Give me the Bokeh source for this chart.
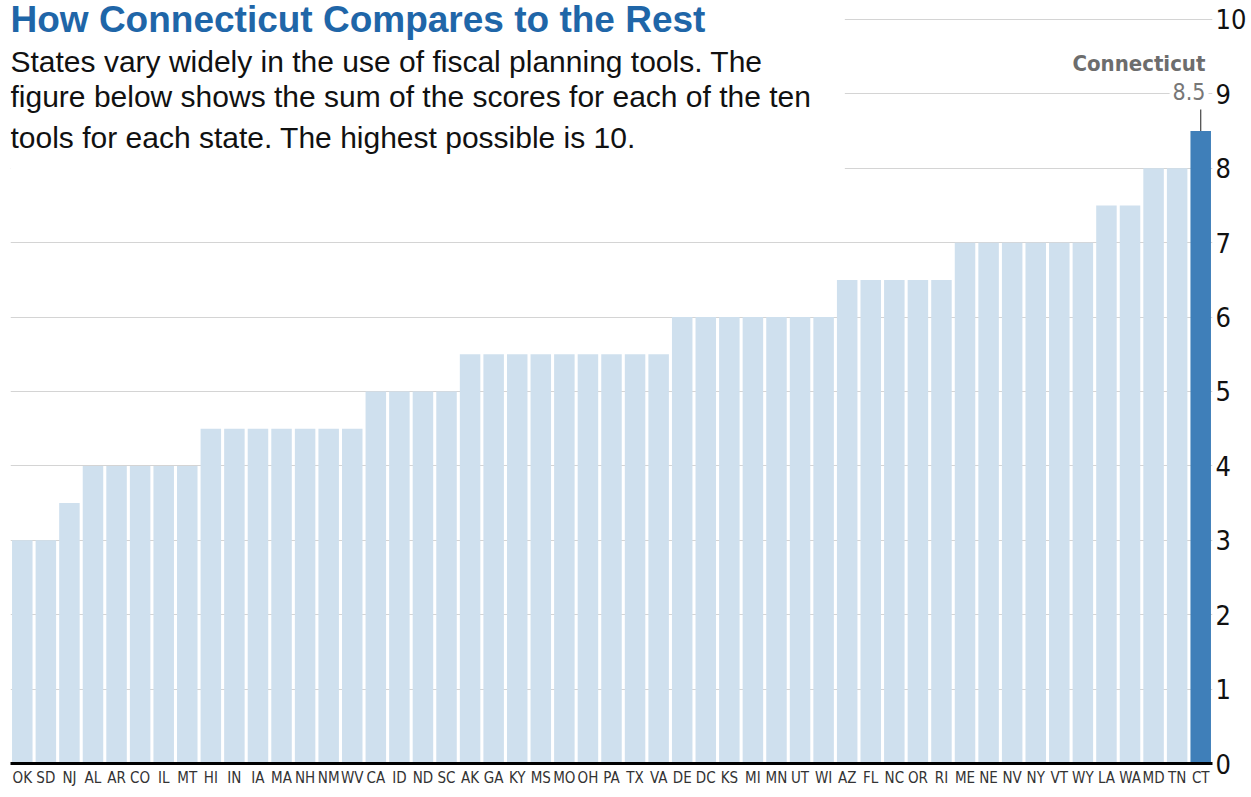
from bokeh.plotting import figure
from bokeh.models import ColumnDataSource, FactorRange, Range1d, FixedTicker, Label, BoxAnnotation
from bokeh.embed import file_html
from bokeh.resources import INLINE

states = ["OK", "SD", "NJ", "AL", "AR", "CO", "IL", "MT", "HI", "IN", "IA", "MA", "NH", "NM", "WV",
          "CA", "ID", "ND", "SC", "AK", "GA", "KY", "MS", "MO", "OH", "PA", "TX", "VA",
          "DE", "DC", "KS", "MI", "MN", "UT", "WI", "AZ", "FL", "NC", "OR", "RI",
          "ME", "NE", "NV", "NY", "VT", "WY", "LA", "WA", "MD", "TN", "CT"]
scores = [3, 3, 3.5, 4, 4, 4, 4, 4, 4.5, 4.5, 4.5, 4.5, 4.5, 4.5, 4.5,
          5, 5, 5, 5, 5.5, 5.5, 5.5, 5.5, 5.5, 5.5, 5.5, 5.5, 5.5,
          6, 6, 6, 6, 6, 6, 6, 6.5, 6.5, 6.5, 6.5, 6.5,
          7, 7, 7, 7, 7, 7, 7.5, 7.5, 8, 8, 8.5]
highlight = "CT"
y_ticks = [0, 1, 2, 3, 4, 5, 6, 7, 8, 9, 10]

LIGHT = "#cfe0ee"
DARK = "#3f7fb9"
COND = "DejaVu Sans Condensed"
colors = [DARK if s == highlight else LIGHT for s in states]
src = ColumnDataSource(dict(state=states, score=scores, color=colors))

p = figure(width=1251, height=797, x_range=FactorRange(*states), y_range=Range1d(0, 10.2016),
           output_backend="svg", toolbar_location=None, y_axis_location="right",
           min_border_left=10, min_border_right=39, min_border_top=4, min_border_bottom=34)
p.outline_line_color = None
p.background_fill_color = "white"
p.border_fill_color = "white"

p.vbar(x="state", top="score", width=0.87, color="color", source=src, line_color=None)

p.ygrid.grid_line_color = "#d4d4d4"
p.ygrid.grid_line_width = 1
p.xgrid.grid_line_color = None
p.x_range.range_padding = 0

ya = p.yaxis[0]
ya.ticker = FixedTicker(ticks=y_ticks)
ya.axis_line_color = None
ya.major_tick_line_color = None
ya.minor_tick_line_color = None
ya.major_tick_out = 0
ya.major_tick_in = 0
ya.major_label_standoff = 3
ya.major_label_text_font = COND
ya.major_label_text_font_size = "27px"
ya.major_label_text_color = "#111111"

xa = p.xaxis[0]
xa.axis_line_color = "black"
xa.axis_line_width = 3
xa.major_tick_line_color = None
xa.minor_tick_line_color = None
xa.major_tick_out = 0
xa.major_tick_in = 0
xa.major_label_standoff = 5
xa.major_label_text_font = COND
xa.major_label_text_font_size = "15px"
xa.major_label_text_color = "#333333"

# white block behind the title text, hides the upper grid lines there
p.add_layout(BoxAnnotation(right=35.4, bottom=7.75, fill_color="white", fill_alpha=1,
                           line_color=None, level="underlay"))

ct_x = states.index(highlight) + 0.5
ct_val = scores[states.index(highlight)]
p.segment(x0=[ct_x], y0=[ct_val], x1=[ct_x], y1=[ct_val + 0.29], line_color="#444444", line_width=1.2)

p.add_layout(Label(x=0, y=10.0, text="How Connecticut Compares to the Rest",
                   text_font="Liberation Sans", text_font_style="bold", text_font_size="37px",
                   text_color="#1f66a8", text_baseline="alphabetic"))
sub = ["States vary widely in the use of fiscal planning tools.  The",
       "figure below shows the sum of the scores for each of the ten",
       "tools for each state.  The highest possible is 10."]
for t, yv in zip(sub, [9.43, 8.97, 8.42]):
    p.add_layout(Label(x=0, y=yv, text=t, text_font="Liberation Sans",
                       text_font_size="30px", text_color="#111111", text_baseline="alphabetic"))

p.add_layout(Label(x=50.7, y=9.41, text="Connecticut", text_font=COND,
                   text_font_style="bold", text_font_size="22px", text_color="#6d6d6d",
                   text_align="right", text_baseline="alphabetic"))
p.add_layout(Label(x=50.83, y=9.03, text="8.5", text_font=COND,
                   text_font_size="23px", text_color="#777777", text_align="right",
                   text_baseline="alphabetic", background_fill_color="white",
                   background_fill_alpha=1, padding=3))

open("out.html", "w").write(file_html(p, INLINE))
